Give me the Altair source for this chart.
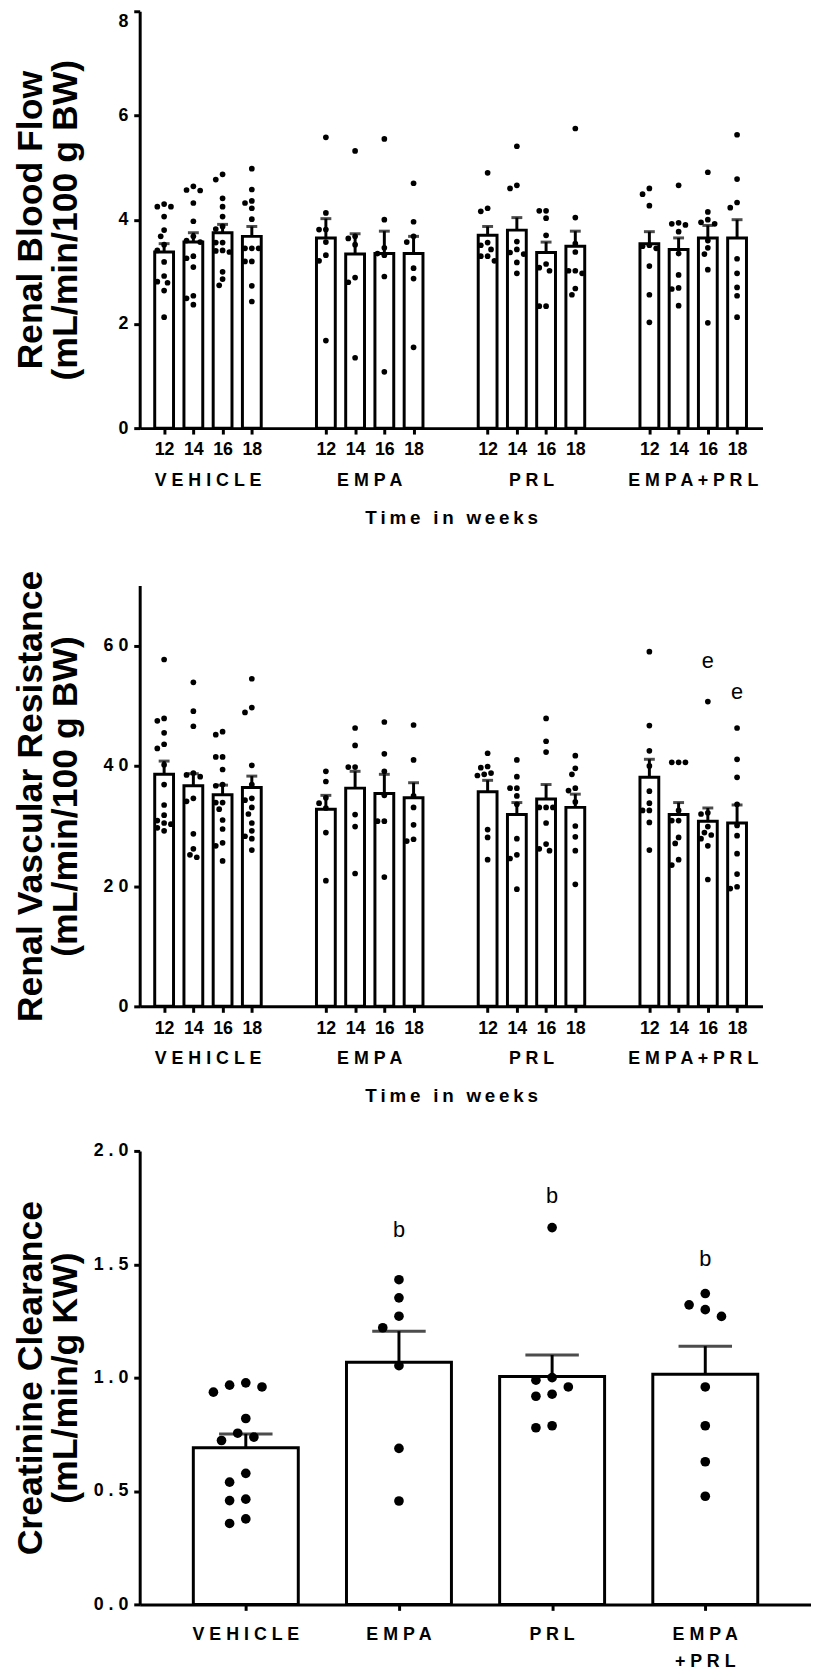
import altair as alt
import pandas as pd

GROUPS = ["VEHICLE", "EMPA", "PRL", "EMPA+PRL"]
WEEKS = [12, 14, 16, 18]
GROUP_LABELS = ["V E H I C L E", "E M P A", "P R L", "E M P A + P R L"]
GROUP_LABELS_C = ["V E H I C L E", "E M P A", "P R L", "E M P A\n+ P R L"]
X_TITLE = "\u2009".join("Time in weeks")

# ---- Renal blood flow (mL/min/100 g BW); one list per week 12,14,16,18 ----
RBF_VEHICLE = [
    [4.25, 4.25, 4.30, 4.06, 3.80, 3.68, 3.52, 3.41, 3.19, 2.92, 2.79, 2.81, 2.64, 2.13],
    [4.64, 4.56, 4.57, 4.32, 3.97, 3.68, 3.60, 3.57, 3.30, 3.26, 3.09, 2.54, 2.49, 2.37],
    [4.87, 4.77, 4.41, 4.25, 4.06, 3.87, 3.82, 3.56, 3.56, 3.41, 3.40, 3.38, 3.00, 2.86, 2.74],
    [4.98, 4.58, 4.36, 4.32, 4.22, 4.01, 3.45, 3.45, 3.45, 3.20, 3.20, 2.73, 2.43],
]
RBF_EMPA = [
    [5.58, 4.13, 3.81, 3.81, 3.57, 3.32, 3.21, 1.68],
    [5.32, 3.68, 3.64, 3.52, 2.89, 2.80, 1.35],
    [5.55, 4.00, 3.46, 3.35, 3.32, 2.91, 1.08],
    [4.70, 3.96, 3.68, 3.57, 3.07, 2.87, 1.55],
]
RBF_PRL = [
    [4.90, 4.22, 4.16, 3.56, 3.51, 3.43, 3.30, 3.30, 3.21],
    [5.41, 4.66, 4.60, 3.58, 3.43, 3.37, 3.34, 3.18, 2.97],
    [4.17, 4.17, 4.03, 3.70, 3.15, 3.08, 3.02, 2.34, 2.34],
    [5.75, 4.04, 3.54, 3.38, 3.02, 3.02, 2.97, 2.68, 2.56],
]
RBF_EMPA_PRL = [
    [4.60, 4.49, 4.27, 3.51, 3.49, 3.45, 3.11, 2.56, 2.03],
    [4.66, 3.94, 3.92, 3.90, 3.77, 3.35, 2.94, 2.69, 2.67, 2.35],
    [4.91, 4.15, 4.00, 3.95, 3.92, 3.60, 3.46, 3.34, 3.04, 2.02],
    [5.63, 4.78, 4.33, 4.23, 3.25, 2.97, 2.70, 2.54, 2.13],
]
RBF_MEAN = [[3.38, 3.57, 3.75, 3.68], [3.65, 3.34, 3.35, 3.35],
            [3.70, 3.80, 3.37, 3.49], [3.54, 3.43, 3.65, 3.65]]
RBF_SEM = [[0.16, 0.18, 0.16, 0.19], [0.37, 0.39, 0.43, 0.33],
           [0.17, 0.24, 0.20, 0.29], [0.23, 0.22, 0.24, 0.35]]

# ---- Renal vascular resistance ----
RVR_VEHICLE = [
    [57.7, 47.9, 47.5, 45.5, 43.6, 42.9, 40.2, 36.9, 33.5, 31.8, 30.9, 30.5, 30.3, 29.7, 29.2],
    [53.9, 49.1, 46.6, 38.8, 38.5, 38.2, 34.6, 34.1, 28.7, 26.2, 25.2, 24.8],
    [45.7, 45.2, 41.5, 41.5, 39.4, 36.9, 36.7, 33.9, 33.9, 32.8, 31.0, 29.5, 27.2, 26.7, 24.2],
    [54.5, 49.7, 48.9, 40.1, 36.9, 34.6, 34.3, 33.1, 32.0, 30.5, 29.2, 28.3, 27.9, 26.0],
]
RVR_EMPA = [
    [39.1, 37.4, 34.7, 33.8, 33.0, 28.9, 20.9],
    [46.3, 43.4, 39.8, 39.8, 31.9, 29.9, 22.1],
    [47.3, 42.0, 39.1, 35.1, 30.8, 30.8, 21.5],
    [46.8, 41.0, 35.0, 33.1, 30.2, 27.8, 27.5],
]
RVR_PRL = [
    [42.1, 39.9, 39.7, 38.8, 38.6, 38.4, 29.4, 28.1, 24.4],
    [41.0, 38.2, 36.3, 36.3, 35.0, 33.6, 27.9, 25.2, 24.6, 19.5],
    [47.9, 44.1, 42.3, 33.1, 33.1, 33.1, 30.5, 27.0, 26.2, 25.9],
    [41.7, 39.6, 38.6, 36.3, 35.9, 34.0, 30.0, 28.2, 25.9, 20.3],
]
RVR_EMPA_PRL = [
    [59.0, 46.7, 42.5, 40.0, 35.8, 33.8, 32.6, 32.6, 30.6, 26.0],
    [40.6, 40.6, 40.6, 32.6, 30.9, 30.9, 28.1, 27.1, 24.4, 23.5],
    [50.7, 32.2, 32.0, 29.9, 28.9, 28.5, 27.9, 26.7, 21.1],
    [46.3, 41.1, 38.1, 33.6, 30.1, 28.4, 25.4, 22.0, 19.9, 19.6],
]
RVR_MEAN = [[38.6, 36.7, 35.2, 36.4], [32.8, 36.3, 35.4, 34.7],
            [35.7, 31.9, 34.5, 33.1], [38.1, 31.9, 30.8, 30.5]]
RVR_SEM = [[2.2, 2.0, 1.6, 1.9], [2.3, 2.8, 3.2, 2.5],
           [1.9, 2.0, 2.4, 2.2], [3.0, 2.0, 2.2, 3.0]]
RVR_LETTER_GROUP = ["EMPA+PRL", "EMPA+PRL"]
RVR_LETTER_WEEK = [16, 18]
RVR_LETTER_TEXT = ["e", "e"]
RVR_LETTER_Y = [57.4, 52.2]

# ---- Creatinine clearance ----
CRCL_VEHICLE = [0.977, 0.959, 0.936, 0.967, 0.820, 0.738, 0.723, 0.755,
                0.578, 0.539, 0.464, 0.458, 0.357, 0.377]
CRCL_EMPA = [1.432, 1.352, 1.271, 1.220, 1.053, 0.688, 0.456]
CRCL_PRL = [1.662, 0.989, 1.000, 0.959, 0.927, 0.918, 0.779, 0.788]
CRCL_EMPA_PRL = [1.371, 1.321, 1.300, 1.270, 0.959, 0.788, 0.629, 0.477]
CRCL_MEAN = [0.691, 1.068, 1.005, 1.015]
CRCL_SEM = [0.061, 0.137, 0.095, 0.124]
CRCL_LETTER_GROUP = ["EMPA", "PRL", "EMPA+PRL"]
CRCL_LETTER_TEXT = ["b", "b", "b"]
CRCL_LETTER_Y = [1.652, 1.80, 1.523]

# ---------------- layout / style ----------------
FONT = "Liberation Sans"
GROUP_PX = 166
BAR_PX = 30
W_AB = 629
H_A = 421
H_B = 438
B_TOP = 13
W_C = 678
H_C = 458
GROUP_C_PX = 157
SPACING = 146
TITLE_SIZE = 36
TITLE_X = -99
TITLE_LH = 35


def swarm(values, ppu, thr, step):
    placed = []
    offs = [0.0] * len(values)
    for i in sorted(range(len(values)), key=lambda i: -values[i]):
        y = values[i] * ppu
        j = 0
        while True:
            cand = 0.0 if j == 0 else ((j + 1) // 2) * step * (-1 if j % 2 else 1)
            if all((cand - px) ** 2 + (y - py) ** 2 >= thr ** 2 for px, py in placed):
                break
            j += 1
        placed.append((cand, y))
        offs[i] = cand
    return offs


def y_axis(title, values, fmt=None, top_value=None):
    kw = dict(
        values=values, title=title, grid=False,
        titleFont=FONT, titleFontSize=TITLE_SIZE, titleFontWeight="bold", titleColor="black",
        titleLineHeight=TITLE_LH, titleBaseline="alphabetic", titleX=TITLE_X, titleAlign="center",
        labelFont=FONT, labelFontSize=18, labelFontWeight="bold", labelColor="black",
        labelPadding=6, labelExpr="replace(datum.label, regexp('(.)(?=.)', 'g'), '$1 ')",
        tickSize=6, tickWidth=3, tickColor="black",
        domainColor="black", domainWidth=3,
    )
    if fmt:
        kw["format"] = fmt
    if top_value is not None:
        # keep the label of the topmost tick inside the page
        kw["labelOffset"] = {"condition": {"test": f"datum.value == {top_value}", "value": 10},
                             "value": 0}
    return alt.Axis(**kw)


def panel_ab(dots_lists, means, sems, ymax, yticks, title, height, range_top, letters, top_value=None):
    ppu = (height - range_top) / ymax
    bars, pts = [], []
    for g, grp in enumerate(GROUPS):
        for k, wk in enumerate(WEEKS):
            pos = g * GROUP_PX + k * BAR_PX
            m, s = means[g][k], sems[g][k]
            bars.append({"group": grp, "week": wk, "pos": pos, "mean": m, "upper": m + s})
            vals = dots_lists[g][k]
            for v, off in zip(vals, swarm(vals, ppu, 7.0, 3.5)):
                pts.append({"group": grp, "week": wk, "pos": pos + off, "value": v})
    bars = pd.DataFrame(bars)
    pts = pd.DataFrame(pts)
    grp_df = pd.DataFrame({"pos": [g * GROUP_PX + 1.5 * BAR_PX for g in range(4)],
                           "label": GROUP_LABELS})

    xs = alt.Scale(domain=[-20, W_AB - 20], nice=False, zero=False)
    ys = alt.Scale(domain=[0, ymax], nice=False, range=[height, range_top])
    xaxis = alt.Axis(
        values=list(bars["pos"]), labelExpr="12 + 2 * ((datum.value % 166) / 30)",
        title=X_TITLE, titleFont=FONT, titleFontSize=19, titleFontWeight="bold",
        titleColor="black", titlePadding=50,
        labelFont=FONT, labelFontSize=18, labelFontWeight="bold", labelColor="black",
        labelPadding=7, labelFlush=False, labelOverlap=False, grid=False,
        tickSize=6, tickWidth=3, tickColor="black", domainColor="black", domainWidth=3,
    )
    base_bar = alt.Chart(bars)
    bar = base_bar.mark_bar(width=19, fill="white", stroke="black", strokeWidth=3).encode(
        x=alt.X("pos:Q", scale=xs, axis=xaxis),
        y=alt.Y("mean:Q", scale=ys, axis=y_axis(title, yticks, top_value=top_value)),
    )
    err = base_bar.mark_rule(color="black", strokeWidth=3).encode(
        x="pos:Q", y="mean:Q", y2="upper:Q")
    cap = base_bar.mark_tick(orient="horizontal", size=11, thickness=3, color="black").encode(
        x="pos:Q", y="upper:Q")
    dots = alt.Chart(pts).mark_circle(size=33, color="black", opacity=1).encode(
        x="pos:Q", y="value:Q")
    glab = alt.Chart(grp_df).mark_text(
        font=FONT, fontSize=18, fontWeight="bold", color="black", baseline="middle"
    ).encode(x="pos:Q", y=alt.value(height + 53), text="label:N")
    layers = [bar, err, cap, dots, glab]
    if letters is not None:
        lg, lw, lt, ly = letters
        ldf = pd.DataFrame({
            "pos": [GROUPS.index(g) * GROUP_PX + WEEKS.index(w) * BAR_PX for g, w in zip(lg, lw)],
            "text": lt, "value": ly})
        ann = alt.Chart(ldf).mark_text(font=FONT, fontSize=22, color="black", baseline="middle").encode(
            x="pos:Q", y="value:Q", text="text:N")
        layers.append(ann)
    return alt.layer(*layers).properties(width=W_AB, height=height)


# ---------------- panel C ----------------
def panel_c():
    ppu = H_C / 2.0
    dots_all = [CRCL_VEHICLE, CRCL_EMPA, CRCL_PRL, CRCL_EMPA_PRL]
    bars, pts = [], []
    for g, grp in enumerate(GROUPS):
        pos = g * GROUP_C_PX
        bars.append({"group": grp, "pos": pos, "mean": CRCL_MEAN[g],
                     "upper": CRCL_MEAN[g] + CRCL_SEM[g], "label": GROUP_LABELS_C[g]})
        vals = dots_all[g]
        for v, off in zip(vals, swarm(vals, ppu, 15.0, 8.3)):
            pts.append({"group": grp, "pos": pos + off, "value": v})
    bars = pd.DataFrame(bars)
    pts = pd.DataFrame(pts)
    ldf = pd.DataFrame({"pos": [GROUPS.index(g) * GROUP_C_PX for g in CRCL_LETTER_GROUP],
                        "text": CRCL_LETTER_TEXT, "value": CRCL_LETTER_Y})
    left = 103.7
    xs = alt.Scale(domain=[-left, W_C - left], nice=False, zero=False)
    ys = alt.Scale(domain=[0, 2], nice=False)
    xaxis = alt.Axis(values=list(bars["pos"]), labels=False, title=None, grid=False,
                     tickSize=6, tickWidth=3, tickColor="black",
                     domainColor="black", domainWidth=3)
    base = alt.Chart(bars)
    bar = base.mark_bar(width=106, fill="white", stroke="black", strokeWidth=3).encode(
        x=alt.X("pos:Q", scale=xs, axis=xaxis),
        y=alt.Y("mean:Q", scale=ys,
                axis=y_axis(["Creatinine Clearance", "(mL/min/g KW)"], [0, 0.5, 1, 1.5, 2], ".1f")),
    )
    err = base.mark_rule(color="black", strokeWidth=3).encode(
        x="pos:Q", y="mean:Q", y2="upper:Q")
    cap = base.mark_tick(orient="horizontal", size=54, thickness=3, color="black").encode(
        x="pos:Q", y="upper:Q")
    dots = alt.Chart(pts).mark_circle(size=95, color="black", opacity=1).encode(
        x="pos:Q", y="value:Q")
    glab = base.mark_text(font=FONT, fontSize=18, fontWeight="bold", color="black",
                          baseline="alphabetic", lineBreak="\n", lineHeight=27).encode(
        x="pos:Q", y=alt.value(H_C + 36), text="label:N")
    ann = alt.Chart(ldf).mark_text(font=FONT, fontSize=22, color="black", baseline="middle").encode(
        x="pos:Q", y="value:Q", text="text:N")
    return alt.layer(bar, err, cap, dots, glab, ann).properties(width=W_C, height=H_C)


panel_a = panel_ab([RBF_VEHICLE, RBF_EMPA, RBF_PRL, RBF_EMPA_PRL], RBF_MEAN, RBF_SEM,
                   8, [0, 2, 4, 6, 8], ["Renal Blood Flow", "(mL/min/100 g BW)"],
                   H_A, 0, None, top_value=8)
panel_b = panel_ab([RVR_VEHICLE, RVR_EMPA, RVR_PRL, RVR_EMPA_PRL], RVR_MEAN, RVR_SEM,
                   70, [0, 20, 40, 60], ["Renal Vascular Resistance", "(mL/min/100 g BW)"],
                   H_B, B_TOP, (RVR_LETTER_GROUP, RVR_LETTER_WEEK, RVR_LETTER_TEXT, RVR_LETTER_Y))

chart = alt.vconcat(panel_a, panel_b, panel_c(), spacing=SPACING, bounds="flush").properties(
    padding={"left": 4, "top": -7, "right": 0, "bottom": -4}, background="white"
).configure_view(stroke=None)

chart.save("out.html", embed_options={"renderer": "svg", "actions": False})
